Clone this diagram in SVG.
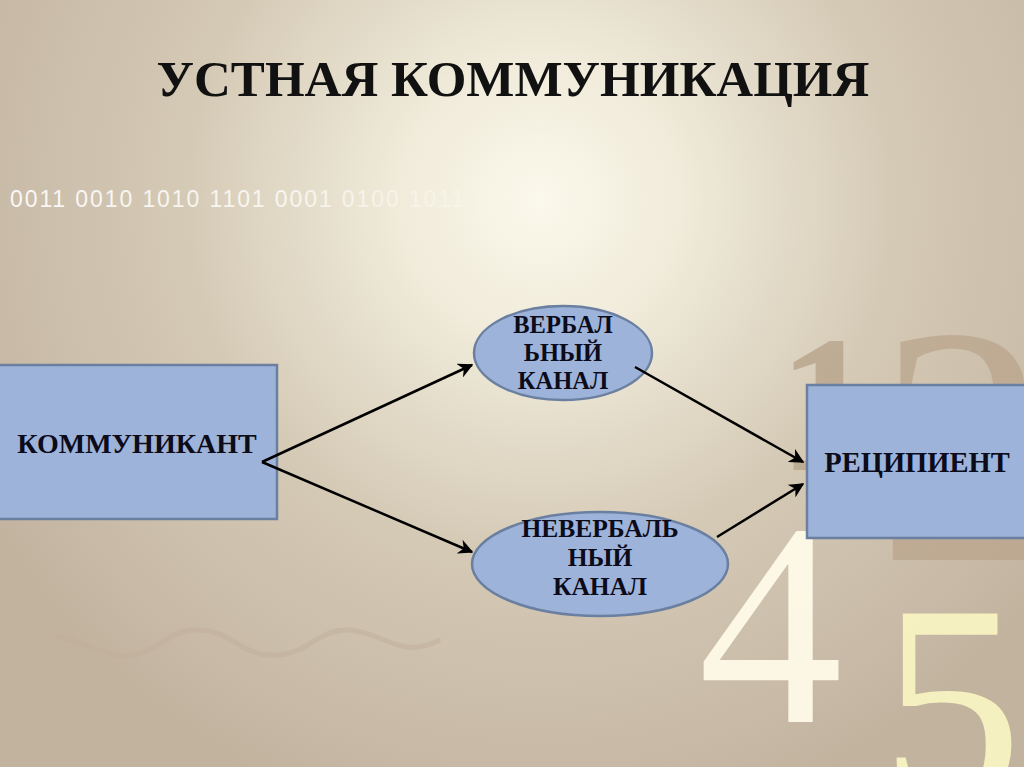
<svg xmlns="http://www.w3.org/2000/svg" width="1024" height="767" viewBox="0 0 1024 767">
<defs>
<radialGradient id="bg" cx="540" cy="200" r="640" gradientUnits="userSpaceOnUse">
<stop offset="0" stop-color="#fbf9ec"/>
<stop offset="0.22" stop-color="#f0ebda"/>
<stop offset="0.55" stop-color="#d5cab6"/>
<stop offset="1" stop-color="#c2b39f"/>
</radialGradient>
<linearGradient id="bin" x1="0" y1="0" x2="480" y2="0" gradientUnits="userSpaceOnUse">
<stop offset="0" stop-color="#ffffff" stop-opacity="0.9"/>
<stop offset="0.6" stop-color="#ffffff" stop-opacity="0.75"/>
<stop offset="1" stop-color="#ffffff" stop-opacity="0.15"/>
</linearGradient>
<marker id="ah" viewBox="0 0 10 10" refX="9" refY="5" markerWidth="6" markerHeight="6" orient="auto" markerUnits="strokeWidth">
<path d="M0,0 L10,5 L0,10 L3,5 Z" fill="#000"/>
</marker>
<style>
.box{fill:#9db3d9;stroke:#6b7fa0;stroke-width:2.5}
.lbl{font-family:"Liberation Serif","DejaVu Serif",serif;font-weight:bold;fill:#0b0b1a;text-anchor:middle}
.big{font-size:28px}
.sm{font-size:24.5px}
.con{stroke:#000;stroke-width:2.5;fill:none;marker-end:url(#ah)}
</style>
</defs>
<rect x="0" y="0" width="1024" height="767" fill="url(#bg)"/>
<path d="M55,636 C80,640 110,660 135,655 C160,650 170,628 200,630 C235,632 240,658 280,655 C310,652 320,628 350,630 C385,633 400,660 440,640" stroke="#bfae9a" stroke-width="5" fill="none" opacity="0.5"/>
<g font-family="Liberation Serif,DejaVu Serif,serif">
<text x="778" y="470" font-size="195" font-weight="bold" fill="#b9a48c" opacity="0.8">1</text>
<text x="878" y="560" font-size="340" fill="#bba58d" opacity="0.75">2</text>
<text x="698" y="722" font-size="290" fill="#fffbe8" opacity="0.95">4</text>
<text x="880" y="800" font-size="285" fill="#fbf7c4" opacity="0.9">5</text>
</g>
<text x="10" y="207" font-family="Liberation Sans,Arial,sans-serif" font-size="23" letter-spacing="1.9" fill="url(#bin)">0011 0010 1010 1101 0001 0100 1011</text>
<text x="513" y="96" font-family="Liberation Serif,DejaVu Serif,serif" font-weight="bold" font-size="51" fill="#111" text-anchor="middle">УСТНАЯ КОММУНИКАЦИЯ</text>
<g id="kommunikant">
<rect class="box" x="-3" y="365" width="280" height="154"/>
<text class="lbl big" x="137" y="453">КОММУНИКАНТ</text>
</g>
<g id="verbal">
<ellipse class="box" cx="563" cy="353" rx="89" ry="47"/>
<text class="lbl sm" x="563" y="333">ВЕРБАЛ</text>
<text class="lbl sm" x="563" y="361">ЬНЫЙ</text>
<text class="lbl sm" x="563" y="389">КАНАЛ</text>
</g>
<g id="neverbal">
<ellipse class="box" cx="600" cy="564" rx="128" ry="52"/>
<text class="lbl" style="font-size:25.5px" x="600" y="537">НЕВЕРБАЛЬ</text>
<text class="lbl" style="font-size:25.5px" x="600" y="566">НЫЙ</text>
<text class="lbl" style="font-size:25.5px" x="600" y="595">КАНАЛ</text>
</g>
<g id="recipient">
<rect class="box" x="807" y="385" width="220" height="153"/>
<text class="lbl" style="font-size:28.5px" x="917" y="472">РЕЦИПИЕНТ</text>
</g>
<g id="connectors">
<line class="con" x1="262" y1="462" x2="472" y2="365"/>
<line class="con" x1="262" y1="462" x2="472" y2="552"/>
<line class="con" x1="635" y1="367" x2="803" y2="462"/>
<line class="con" x1="717" y1="537" x2="803" y2="484"/>
</g>
</svg>
